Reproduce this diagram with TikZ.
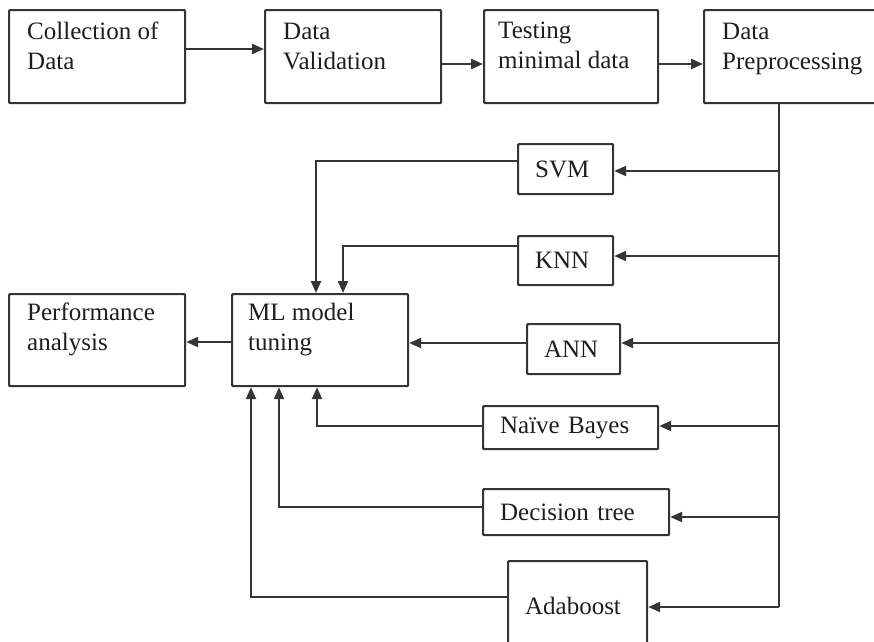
\documentclass[tikz,border=0pt]{standalone}
\usepackage{fontspec}
\setmainfont{Liberation Serif}
\usetikzlibrary{arrows.meta}
\definecolor{linec}{HTML}{353535}
\definecolor{txt}{HTML}{1E1E1E}
\begin{document}
\begin{tikzpicture}[x=1pt,y=-1pt,
  box/.style={draw=linec, line width=2.2pt, rounded corners=1pt, inner sep=0pt, anchor=north west},
  sbox/.style={box, align=left, inner xsep=17pt, inner ysep=0pt, font=\fontsize{25}{30}\selectfont, text=txt},
  lbl/.style={anchor=base west, align=left, inner sep=0pt, font=\fontsize{25}{30}\selectfont, text=txt},
  conn/.style={draw=linec, line width=2.2pt},
  arr/.style={conn, -{Triangle[length=12pt,width=10pt]}},
]
\useasboundingbox (0,0) rectangle (874,641);
\clip (0,0) rectangle (874,641);

% top row
\node[box, minimum width=176, minimum height=93] (col) at (8,9) {};
\node[box, minimum width=176, minimum height=93] (dv) at (264,9) {};
\node[box, minimum width=174, minimum height=93] (test) at (483,9) {};
\node[box, minimum width=220, minimum height=93] (prep) at (703,9) {};
\node[lbl] (tcol) at (27,69) {Collection of\\Data};
\node[lbl] (tdv) at (283,69) {Data\\Validation};
\node[lbl] (ttest) at (498,68) {Testing\\minimal data};
\node[lbl] (tprep) at (722,69) {Data\\Preprocessing};

% middle
\node[box, minimum width=176, minimum height=92] (perf) at (8,293) {};
\node[box, minimum width=176, minimum height=92] (ml) at (231,293) {};
\node[lbl] (tperf) at (27,350) {Performance\\analysis};
\node[lbl] (tml) at (248,350) {ML model\\tuning};

% algorithms
\node[sbox, text width=61, minimum height=50] (svm) at (517,143) {SVM};
\node[sbox, text width=61, minimum height=49] (knn) at (517,235) {KNN};
\node[sbox, text width=59, minimum height=50] (ann) at (526,323) {ANN};
\node[sbox, text width=141, minimum height=43] (nb) at (482,405) {Naïve Bayes};
\node[sbox, text width=152, minimum height=46] (dt) at (482,488) {Decision tree};
\node[sbox, text width=105, minimum height=90] (ada) at (507,560) {Adaboost};

% top arrows
\draw[arr] (col.east |- 0,49) -- (dv.west |- 0,49);
\draw[arr] (dv.east |- 0,64) -- (test.west |- 0,64);
\draw[arr] (test.east |- 0,64) -- (prep.west |- 0,64);

% trunk
\coordinate (tb) at (779,607);
\draw[conn] (tb |- prep.south) -- (tb);
\draw[arr] (tb |- 0,171) -- (svm.east |- 0,171);
\draw[arr] (tb |- 0,256) -- (knn.east |- 0,256);
\draw[arr] (tb |- 0,343) -- (ann.east |- 0,343);
\draw[arr] (tb |- 0,426) -- (nb.east |- 0,426);
\draw[arr] (tb |- 0,517) -- (dt.east |- 0,517);
\draw[arr] (tb) -- (ada.east |- tb);

% outputs to ML model tuning
\draw[arr] (svm.west |- 0,161) -| (ml.north -| 316,0);
\draw[arr] (knn.west |- 0,246) -| (ml.north -| 343,0);
\draw[arr] (ann.west |- 0,343) -- (ml.east |- 0,343);
\draw[arr] (nb.west |- 0,426) -| (ml.south -| 317,0);
\draw[arr] (dt.west |- 0,507) -| (ml.south -| 279,0);
\draw[arr] (ada.west |- 0,597) -| (ml.south -| 251,0);
\draw[arr] (ml.west |- 0,342) -- (perf.east |- 0,342);
\end{tikzpicture}
\end{document}
